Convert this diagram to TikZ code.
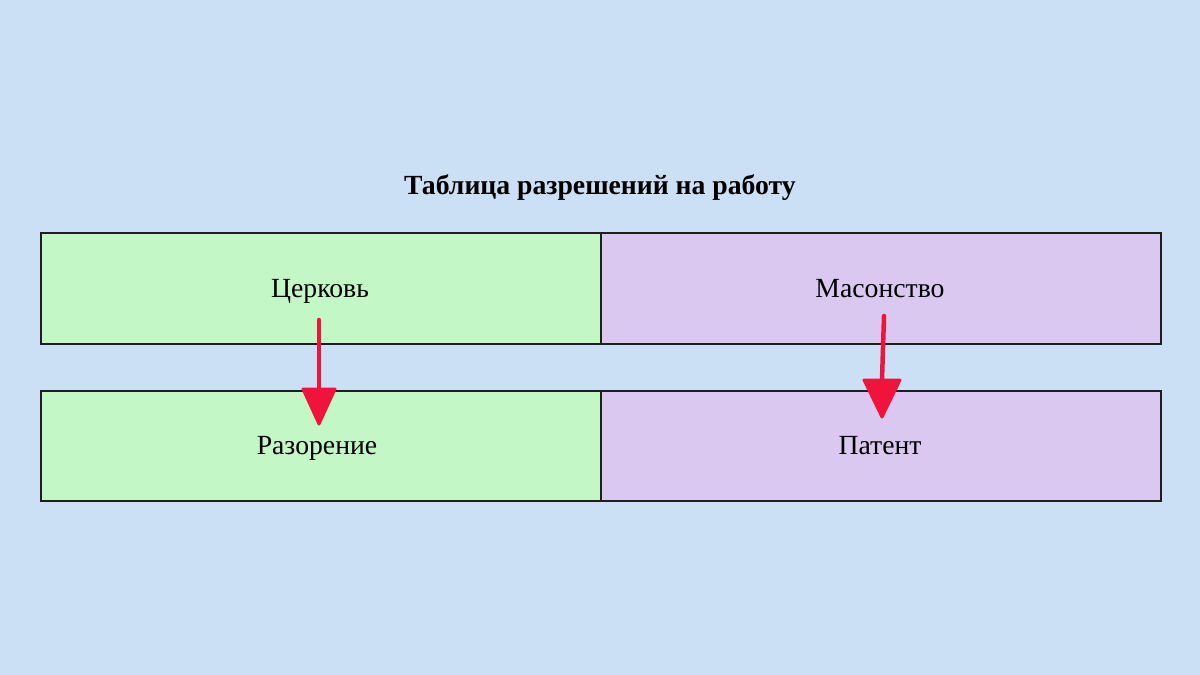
\documentclass[tikz,border=0pt]{standalone}
\usepackage{fontspec}
\setmainfont{Liberation Serif}
\definecolor{bg}{RGB}{204,224,245}
\definecolor{cellg}{RGB}{196,247,198}
\definecolor{cellp}{RGB}{218,200,241}
\definecolor{arr}{RGB}{240,20,60}
\definecolor{edge}{RGB}{30,30,30}
\begin{document}
\begin{tikzpicture}[x=1pt,y=-1pt,
  cell/.style={draw=edge,line width=1.6pt,minimum width=560pt,minimum height=111pt,inner sep=0pt,anchor=north west},
  lbl/.style={font=\fontsize{27.7}{32}\selectfont,anchor=base},
  redarrow/.style={draw=arr,line width=4.5pt,line cap=round},
  redhead/.style={fill=arr,draw=arr,line width=3pt,line join=round}]
\useasboundingbox[fill=bg] (0,0) rectangle (1200,675);
\node[font=\bfseries\fontsize{27.7}{32}\selectfont,anchor=base] (title) at (600,194) {Таблица разрешений на работу};
\node[cell,fill=cellg] (c11) at (40,232) {};
\node[cell,fill=cellp] (c12) at (600,232) {};
\node[cell,fill=cellg,minimum height=110pt] (c21) at (40,390) {};
\node[cell,fill=cellp,minimum height=110pt] (c22) at (600,390) {};
\node[lbl] (t11) at (320,297) {Церковь};
\node[lbl] (t12) at (880,297) {Масонство};
\node[lbl] (t21) at (317,454) {Разорение};
\node[lbl] (t22) at (880,454) {Патент};
\coordinate (a1s) at (319,320);
\coordinate (a1b) at (319,389);
\coordinate (a1e) at (319,424);
\coordinate (a2s) at (884,316);
\coordinate (a2b) at (882,380);
\coordinate (a2e) at (882,417);
\draw[redarrow] (a1s) -- (a1b);
\draw[redhead] (a1e) -- ([xshift=-16pt]a1b) -- ([xshift=16pt]a1b) -- cycle;
\draw[redarrow] (a2s) -- (a2b);
\draw[redhead] (a2e) -- ([xshift=-18pt]a2b) -- ([xshift=18pt]a2b) -- cycle;
\end{tikzpicture}
\end{document}
